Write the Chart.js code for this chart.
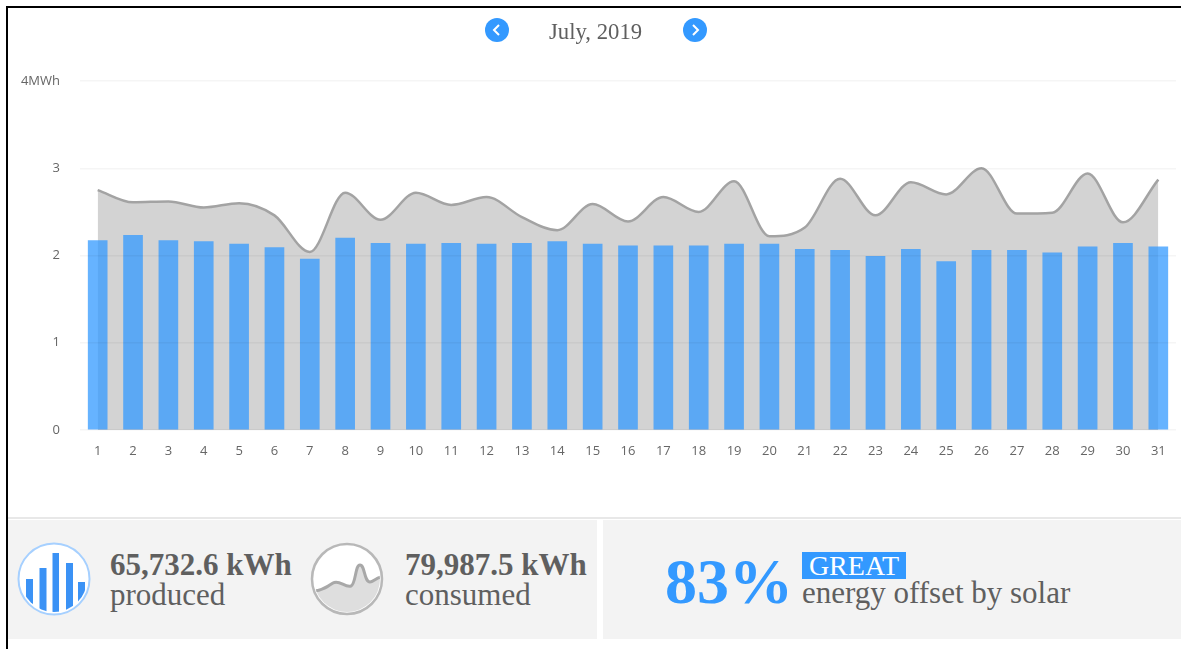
<!DOCTYPE html>
<html>
<head>
<meta charset="utf-8">
<title>July, 2019</title>
<script src="https://cdn.jsdelivr.net/npm/chart.js@4"></script>
<style>
html, body { margin: 0; padding: 0; background: #fff; }
#page { position: relative; width: 1181px; height: 649px; overflow: hidden; font-family: "Liberation Serif", serif; color: #5f5f5f; }
#frameTop { position: absolute; left: 6px; top: 6px; width: 1175px; height: 2px; background: #000; }
#frameLeft { position: absolute; left: 6px; top: 6px; width: 2px; height: 643px; background: #000; }
#chartBox { position: absolute; left: 0; top: 0; width: 1181px; height: 500px; }
#month { position: absolute; left: 549px; top: 19px; font-size: 22.7px; line-height: 26px; white-space: nowrap; }
.nav { position: absolute; top: 18px; }
#rule { position: absolute; left: 8px; top: 517px; width: 1173px; height: 2px; background: #e8e8e8; }
.panel { position: absolute; top: 520px; height: 119px; background: #f3f3f3; }
.txt { position: absolute; white-space: nowrap; }
.amount { font-size: 31px; font-weight: bold; line-height: 32px; top: 549px; }
.what { font-size: 31px; line-height: 32px; top: 579px; }
#pct { left: 665px; top: 545px; font-size: 64px; line-height: 74px; color: #3399ff; font-weight: bold; }
#great { left: 802px; top: 552px; width: 104px; height: 27px; line-height: 27px; background: #3399ff; color: #fff; font-size: 28px; text-align: center; }
#offset { left: 802px; top: 576px; font-size: 31px; line-height: 34px; }
.icon { position: absolute; top: 541px; }
</style>
</head>
<body>
<div id="page">
  <div id="chartBox"><canvas id="energyChart" width="1181" height="500"></canvas></div>
  <div id="frameTop"></div>
  <div id="frameLeft"></div>

  <svg class="nav" style="left:485px" width="24" height="24" viewBox="0 0 24 24"><circle cx="12" cy="12" r="12" fill="#3399ff"/><path d="M14 7 L9 12 L14 17" fill="none" stroke="#fff" stroke-width="2"/></svg>
  <div id="month">July, 2019</div>
  <svg class="nav" style="left:683px" width="24" height="24" viewBox="0 0 24 24"><circle cx="12" cy="12" r="12" fill="#3399ff"/><path d="M10 7 L15 12 L10 17" fill="none" stroke="#fff" stroke-width="2"/></svg>

  <div id="rule"></div>
  <div class="panel" style="left:8px;width:589px"></div>
  <div class="panel" style="left:603px;width:578px"></div>

  <svg class="icon" style="left:16px" width="76" height="76" viewBox="0 0 76 76">
    <defs><clipPath id="clipBars"><circle cx="38" cy="38" r="33"/></clipPath></defs>
    <circle cx="38" cy="38" r="35.5" fill="#fff" stroke="#a6d0ff" stroke-width="2"/>
    <g clip-path="url(#clipBars)" fill="#3b92f5">
      <rect x="10" y="38" width="7" height="38"/>
      <rect x="23.5" y="27" width="7" height="49"/>
      <rect x="36.5" y="12" width="6.5" height="64"/>
      <rect x="50" y="22" width="7" height="54"/>
      <rect x="62" y="41" width="7" height="35"/>
    </g>
  </svg>
  <div class="txt amount" style="left:110px">65,732.6 kWh</div>
  <div class="txt what" style="left:110px">produced</div>

  <svg class="icon" style="left:309px" width="76" height="76" viewBox="0 0 76 76">
    <defs><clipPath id="clipCurve"><circle cx="38" cy="38" r="33"/></clipPath></defs>
    <circle cx="38" cy="38" r="35" fill="#fff" stroke="#b8b8b8" stroke-width="2.5"/>
    <g clip-path="url(#clipCurve)">
      <path d="M5 50 C12 50 18 46 24 42 C30 38 36 47 42 45 C47 43 46 24 51 24 C56 24 55 41 61 41 C64 41 67 37 72 36 L72 76 L5 76 Z" fill="#dedede"/>
      <path d="M5 50 C12 50 18 46 24 42 C30 38 36 47 42 45 C47 43 46 24 51 24 C56 24 55 41 61 41 C64 41 67 37 72 36" fill="none" stroke="#a8a8a8" stroke-width="3"/>
    </g>
  </svg>
  <div class="txt amount" style="left:405px">79,987.5 kWh</div>
  <div class="txt what" style="left:405px">consumed</div>

  <div class="txt" id="pct">83%</div>
  <div class="txt" id="great">GREAT</div>
  <div class="txt" id="offset">energy offset by solar</div>
</div>

<script>
const days = ['1','2','3','4','5','6','7','8','9','10','11','12','13','14','15','16','17','18','19','20','21','22','23','24','25','26','27','28','29','30','31'];

const produced = [2.17,2.23,2.17,2.16,2.13,2.09,1.96,2.20,2.14,2.13,2.14,2.13,2.14,2.16,2.13,2.11,2.11,2.11,2.13,2.13,2.07,2.06,1.99,2.07,1.93,2.06,2.06,2.03,2.10,2.14,2.10];

const consumed = [2.75,2.61,2.62,2.55,2.60,2.46,2.04,2.72,2.41,2.72,2.58,2.67,2.44,2.29,2.59,2.39,2.67,2.50,2.85,2.22,2.32,2.88,2.46,2.84,2.70,3.00,2.48,2.49,2.94,2.38,2.87];

const yTicks = [0, 1, 2, 3, 4];
const yUnit = 'MWh';

const tickColor = '#666666';
const tickFont = { family: '"Open Sans"', size: 13 };

const canvasContext = document.getElementById('energyChart').getContext('2d');
new Chart(canvasContext, {
    data: {
        labels: days,
        datasets: [
            {
                type: 'bar',
                label: 'Produced',
                data: produced,
                backgroundColor: 'rgba(51, 153, 255, 0.75)',
                barThickness: 19,
                order: 1
            },
            {
                type: 'line',
                label: 'Consumed',
                data: consumed,
                borderColor: '#a3a3a3',
                borderWidth: 2.5,
                backgroundColor: '#d3d3d3',
                fill: 'origin',
                cubicInterpolationMode: 'monotone',
                pointRadius: 0,
                order: 2
            }
        ]
    },
    options: {
        responsive: false,
        animation: false,
        layout: { padding: { top: 81, right: 5, bottom: 0, left: 0 } },
        plugins: { legend: { display: false }, tooltip: { enabled: false } },
        scales: {
            x: {
                grid: { display: false },
                border: { display: false },
                ticks: { color: tickColor, font: tickFont, padding: 5, maxRotation: 0, autoSkip: false },
                afterFit: (scale) => { scale.height = 70; }
            },
            y: {
                min: 0,
                max: 4,
                afterBuildTicks: (scale) => { scale.ticks = yTicks.map(value => ({ value })); },
                afterFit: (scale) => { scale.width = 80; },
                grid: { color: 'rgba(0, 0, 0, 0.04)', lineWidth: 1.5, drawTicks: false, z: 1 },
                border: { display: false },
                ticks: {
                    color: tickColor,
                    font: tickFont,
                    padding: 20,
                    callback: (value) => value === 4 ? value + yUnit : value
                }
            }
        }
    }
});
</script>
</body>
</html>
